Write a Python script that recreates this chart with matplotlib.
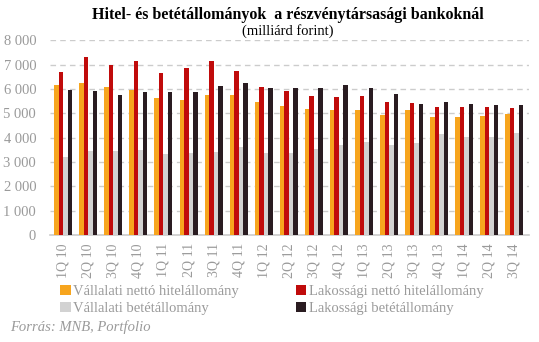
import numpy as np
import matplotlib
matplotlib.use("Agg")
import matplotlib.pyplot as plt

# quarters
quarters = ["1Q 10", "2Q 10", "3Q 10", "4Q 10", "1Q 11", "2Q 11", "3Q 11", "4Q 11",
            "1Q 12", "2Q 12", "3Q 12", "4Q 12", "1Q 13", "2Q 13", "3Q 13", "4Q 13",
            "1Q 14", "2Q 14", "3Q 14"]

# billion HUF
vall_hitel = [6160, 6245, 6080, 5960, 5630, 5545, 5750, 5750, 5465, 5300,
              5180, 5135, 5135, 4930, 5135, 4850, 4850, 4890, 4970]
lak_hitel = [6700, 7310, 6985, 7150, 6655, 6860, 7150, 6740, 6080, 5915,
             5710, 5670, 5710, 5465, 5425, 5260, 5260, 5260, 5220]
vall_betet = [3215, 3450, 3450, 3490, 3330, 3370, 3410, 3615, 3370, 3370,
              3535, 3695, 3820, 3695, 3780, 4150, 4025, 4025, 4190]
lak_betet = [5970, 5930, 5750, 5875, 5875, 5875, 6120, 6245, 6040, 6040,
             6040, 6165, 6040, 5795, 5380, 5465, 5380, 5340, 5340]

labels = ["Vállalati nettó hitelállomány", "Lakossági nettó hitelállomány",
          "Vállalati betétállomány", "Lakossági betétállomány"]
colors = ["#F7A51E", "#C00B0B", "#D2D2D2", "#2A1C21"]

serif = ["Liberation Serif", "DejaVu Serif"]
grey = "#9a9a9a"

fig = plt.figure(figsize=(5.39, 3.42), dpi=100)
ax = fig.add_axes([0.093, 0.313, 0.888, 0.569])

x = np.arange(len(quarters))
w = 0.18
series = [vall_hitel, lak_hitel, vall_betet, lak_betet]
bars = []
for i, (vals, c) in enumerate(zip(series, colors)):
    b = ax.bar(x + (i - 1.5) * w, vals, width=w, color=c, zorder=3)
    bars.append(b)

ax.set_xlim(-0.52, 18.57)
ax.set_ylim(0, 8000)
ax.set_yticks(np.arange(0, 8001, 1000))
ax.set_yticklabels([f"{v:,}".replace(",", " ") for v in range(0, 8001, 1000)],
                   family=serif, fontsize=10.5, color=grey)
ax.set_xticks(x)
ax.set_xticklabels(quarters, rotation=90, family=serif, fontsize=10, color=grey)
ax.tick_params(axis="y", length=0, pad=10)
ax.tick_params(axis="x", length=0, pad=6)
ax.grid(axis="y", color="#cccccc", linestyle=(0, (4, 3)), linewidth=1, zorder=0)
for s in ["top", "right", "left"]:
    ax.spines[s].set_visible(False)
ax.spines["bottom"].set_color("#cccccc")
ax.spines["bottom"].set_linewidth(1.2)

fig.text(0.534, 0.955, "Hitel- és betétállományok  a részvénytársasági bankoknál",
         ha="center", va="center", family=serif, fontweight="bold", fontsize=11.5)
fig.text(0.534, 0.91, "(milliárd forint)", ha="center", va="center",
         family=serif, fontsize=10.5)

handles = [bars[0], bars[2], bars[1], bars[3]]
leg_labels = [labels[0], labels[2], labels[1], labels[3]]
fig.legend(handles, leg_labels, ncol=2, loc="upper left",
           bbox_to_anchor=(0.112, 0.168), frameon=False,
           prop={"family": serif, "size": 10.5}, labelcolor=grey,
           handlelength=0.7, handleheight=0.7, handletextpad=0.2,
           columnspacing=3.9, labelspacing=0.3, borderpad=0, borderaxespad=0)

fig.text(0.018, 0.045, "Forrás: MNB, Portfolio", family=serif, style="italic",
         fontsize=10.5, color=grey, va="center")

fig.savefig("out.png", dpi=100)
